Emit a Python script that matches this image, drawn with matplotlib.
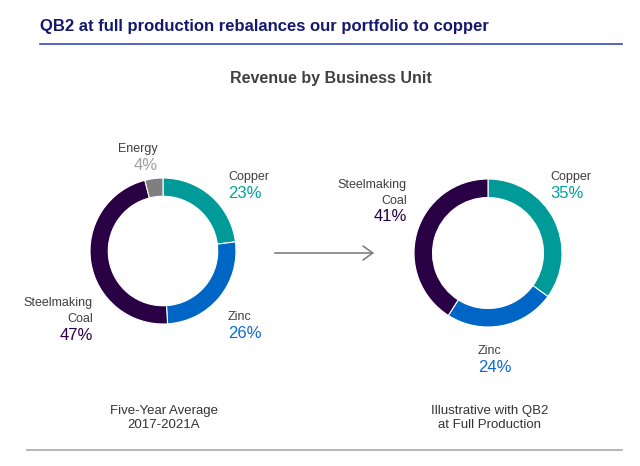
import matplotlib.pyplot as plt
from matplotlib.patches import FancyArrowPatch

plt.rcParams['font.family'] = ['Liberation Sans', 'DejaVu Sans']

# data
left_units = ['Copper', 'Zinc', 'Steelmaking\nCoal', 'Energy']
left_share = [23, 26, 47, 4]
right_units = ['Copper', 'Zinc', 'Steelmaking\nCoal']
right_share = [35, 24, 41]

unit_colors = {'Copper': '#009b98', 'Zinc': '#0066c6',
               'Steelmaking\nCoal': '#2a0044', 'Energy': '#7f7f7f'}
pct_colors = {'Copper': '#00a19e', 'Zinc': '#0a6ad0',
              'Steelmaking\nCoal': '#2a0044', 'Energy': '#a0a0a0'}

W, H = 640, 466
fig = plt.figure(figsize=(W / 100, H / 100), dpi=100)


def fx(x):
    return x / W


def fy(y):
    return 1 - y / H


def donut(cx, cy, r, units, shares):
    ax = fig.add_axes([fx(cx - r), fy(cy + r), 2 * r / W, 2 * r / H])
    ax.pie(shares, colors=[unit_colors[u] for u in units], startangle=90,
           counterclock=False, radius=1,
           wedgeprops=dict(width=0.25, edgecolor='white', linewidth=0.8))
    ax.set_aspect('equal')
    ax.set_xlim(-1, 1)
    ax.set_ylim(-1, 1)
    ax.axis('off')


donut(163, 251, 73, left_units, left_share)
donut(488, 253, 74, right_units, right_share)

name_col = '#3f3f3f'


def label(x, y, unit, share, ha='left'):
    fig.text(fx(x), fy(y), unit, ha=ha, va='bottom', fontsize=9,
             color=name_col, linespacing=1.4, multialignment=ha)
    fig.text(fx(x), fy(y + 2.5), f'{share}%', ha=ha, va='top', fontsize=12,
             color=pct_colors[unit])


# left donut labels
label(158, 155, 'Energy', left_share[3], ha='right')
label(228, 183, 'Copper', left_share[0])
label(228, 323, 'Zinc', left_share[1])
label(93, 325, 'Steelmaking\nCoal', left_share[2], ha='right')

# right donut labels
label(550, 183, 'Copper', right_share[0])
label(478, 357, 'Zinc', right_share[1])
label(407, 207, 'Steelmaking\nCoal', right_share[2], ha='right')

# header
fig.text(fx(40), fy(27), 'QB2 at full production rebalances our portfolio to copper',
         ha='left', va='center', fontsize=12, fontweight='bold', color='#14196e')
fig.add_artist(plt.Line2D([fx(40), fx(622)], [fy(44), fy(44)], color='#3848c0', lw=1.2))
fig.text(fx(331), fy(78), 'Revenue by Business Unit', ha='center', va='center',
         fontsize=11.5, fontweight='bold', color='#404040')

# arrow
fig.add_artist(FancyArrowPatch((fx(272), fy(253)), (fx(377), fy(253)),
                               transform=fig.transFigure, arrowstyle='->,head_length=7,head_width=5',
                               color='#808080', lw=1.2, mutation_scale=1))

# captions
fig.text(fx(164), fy(418), 'Five-Year Average\n2017-2021A', ha='center', va='center',
         fontsize=9.5, color='#333333', linespacing=1.25)
fig.text(fx(490), fy(418), 'Illustrative with QB2\nat Full Production', ha='center',
         va='center', fontsize=9.5, color='#333333', linespacing=1.25)
fig.add_artist(plt.Line2D([fx(27), fx(622)], [fy(450), fy(450)], color='#aaaaaa', lw=1.2))

fig.savefig('out.png', dpi=100)
